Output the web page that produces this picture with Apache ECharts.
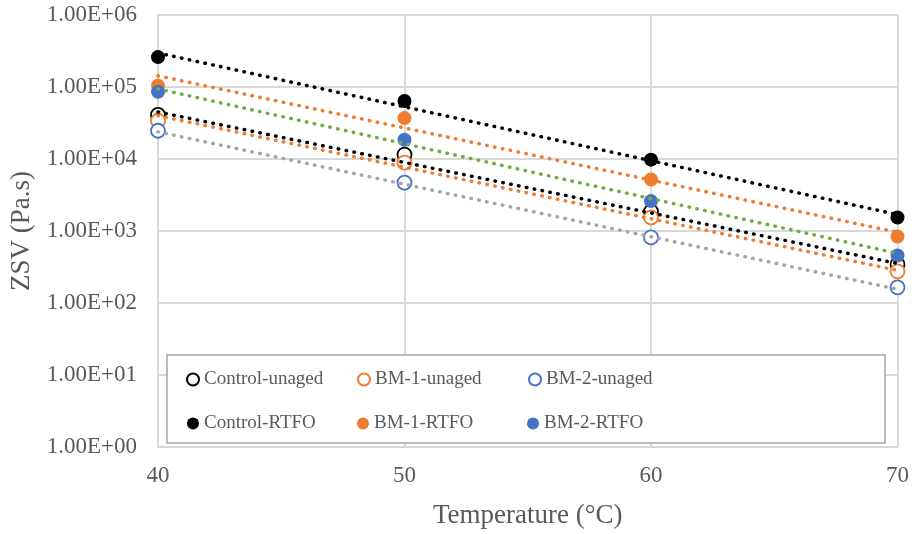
<!DOCTYPE html>
<html>
<head>
<meta charset="utf-8">
<script src="https://cdn.jsdelivr.net/npm/echarts@6/dist/echarts.min.js"></script>
<style>html,body{margin:0;padding:0;background:#fff}#c{width:912px;height:534px}</style>
</head>
<body>
<div id="c"></div>
<script>
// Data
const temperatures = [40, 50, 60, 70];
const controlUnaged = [41000, 11500, 1860, 344];
const bm1Unaged = [34000, 8900, 1540, 275];
const bm2Unaged = [24700, 4700, 814, 165];
const controlRTFO = [260000, 64000, 9800, 1540];
const bm1RTFO = [104000, 37000, 5200, 840];
const bm2RTFO = [86000, 18500, 2600, 457];
// Excel exponential trendlines: values at 40 and 70 °C
const trendX = [40, 70];
const trendControlUnaged = [45000, 354];
const trendBm1Unaged = [40000, 284];
const trendBm2Unaged = [23900, 155];
const trendControlRTFO = [297000, 1690];
const trendBm1RTFO = [143000, 960];
const trendBm2RTFO = [94000, 488];
const yTicks = ['1.00E+00','1.00E+01','1.00E+02','1.00E+03','1.00E+04','1.00E+05','1.00E+06'];

const FONT = '"Liberation Serif", "Times New Roman", serif';
const TXT = '#595959';

function pts(xs, ys){ return xs.map((x,i)=>[x, ys[i]]); }

const markerDefs = [
  {name:'Control-unaged', data:controlUnaged, color:'#000000', open:true},
  {name:'BM-1-unaged', data:bm1Unaged, color:'#ED7D31', open:true},
  {name:'BM-2-unaged', data:bm2Unaged, color:'#4472C4', open:true},
  {name:'Control-RTFO', data:controlRTFO, color:'#000000', open:false},
  {name:'BM-1-RTFO', data:bm1RTFO, color:'#ED7D31', open:false},
  {name:'BM-2-RTFO', data:bm2RTFO, color:'#4472C4', open:false}
];
const trendDefs = [
  {data:trendControlUnaged, color:'#000000'},
  {data:trendBm1Unaged, color:'#ED7D31'},
  {data:trendBm2Unaged, color:'#A5A5A5'},
  {data:trendControlRTFO, color:'#000000'},
  {data:trendBm1RTFO, color:'#ED7D31'},
  {data:trendBm2RTFO, color:'#70AD47'}
];

const series = [];
markerDefs.forEach(d=>{
  series.push({
    name:d.name, type:'scatter', symbol:'circle', symbolSize:14, z:3,
    data:pts(temperatures, d.data),
    itemStyle: d.open ? {color:'#ffffff', borderColor:d.color, borderWidth:1.8, opacity:1}
                      : {color:d.color, borderColor:d.color, borderWidth:0, opacity:1},
    emphasis:{disabled:true}
  });
});
trendDefs.forEach((d,i)=>{
  series.push({
    name:'trend'+i, type:'line', showSymbol:false, symbol:'none', z:4, silent:true,
    data:pts(trendX, d.data),
    lineStyle:{color:d.color, width:3.5, type:[0.5,7.5], cap:'round', opacity:1}
  });
});

const chart = echarts.init(document.getElementById('c'), null, {renderer:'canvas'});
chart.setOption({
  animation:false,
  backgroundColor:'#ffffff',
  grid:{left:158, right:14, top:15, bottom:86, containLabel:false},
  xAxis:{
    type:'value', min:40, max:70, interval:10,
    name:'Temperature (°C)', nameLocation:'middle', nameGap:55,
    nameTextStyle:{fontFamily:FONT, fontSize:27, color:TXT},
    axisLine:{show:true, lineStyle:{color:'#d9d9d9', width:2}},
    axisTick:{show:false},
    axisLabel:{fontFamily:FONT, fontSize:23, color:TXT, margin:17},
    splitLine:{show:true, lineStyle:{color:'#d9d9d9', width:2}}
  },
  yAxis:{
    type:'log', logBase:10, min:1, max:1000000,
    name:'ZSV (Pa.s)', nameLocation:'middle', nameGap:122, nameRotate:90,
    nameTextStyle:{fontFamily:FONT, fontSize:27, color:TXT},
    axisLine:{show:true, lineStyle:{color:'#d9d9d9', width:2}},
    axisTick:{show:false},
    minorTick:{show:false},
    axisLabel:{fontFamily:FONT, fontSize:23, color:TXT, margin:21,
      formatter:v=>yTicks[Math.round(Math.log10(v))]},
    splitLine:{show:true, lineStyle:{color:'#d9d9d9', width:2}}
  },
  graphic:[{
    type:'rect', z:10, silent:true,
    shape:{x:167, y:355, width:718, height:88},
    style:{fill:'#ffffff', stroke:'#a6a6a6', lineWidth:1.5}
  }],
  legend:{
    z:20,
    data:markerDefs.map(d=>({name:d.name, icon:'circle'})),
    left:186, top:364, width:520, orient:'horizontal',
    itemWidth:12, itemHeight:12, itemGap:13, padding:0,
    textStyle:{fontFamily:FONT, fontSize:19, color:TXT, width:140, lineHeight:31},
    selectedMode:false
  },
  series:series
});
</script>
</body>
</html>
